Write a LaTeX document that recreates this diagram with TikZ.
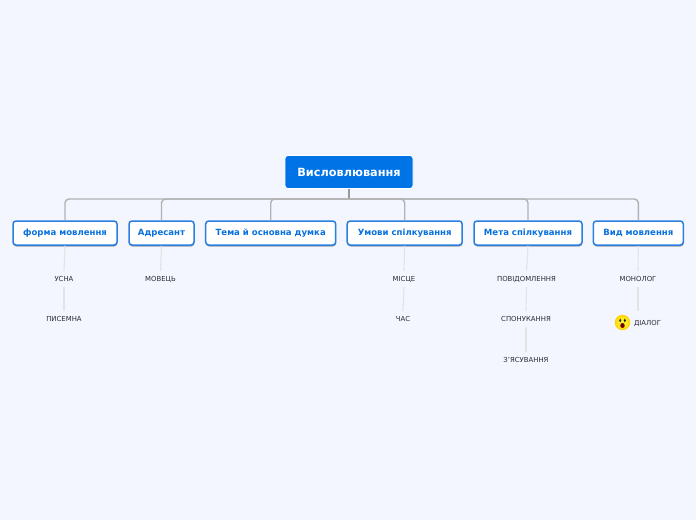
\documentclass[tikz,border=0pt]{standalone}
\usepackage{fontspec}
\setmainfont{DejaVu Sans}
\usetikzlibrary{positioning, shadows}
\definecolor{pagebg}{HTML}{F3F6FF}
\definecolor{rootblue}{HTML}{0073E6}
\definecolor{edgeblue}{HTML}{2A7FDE}
\definecolor{textblue}{HTML}{0870DC}
\definecolor{leafink}{HTML}{2A2D33}

\begin{document}
\begin{tikzpicture}[
  x=1pt, y=-1pt,
  every node/.style={align=center},
  % styles
  rootbox/.style={
    draw=white, fill=rootblue, rounded corners=3pt, line width=0.8pt,
    minimum width=128pt, minimum height=33pt, text=white,
    font=\fontsize{11.3}{13}\selectfont\bfseries
  },
  topicbox/.style={
    draw=edgeblue, fill=white, rounded corners=3pt, line width=1.5pt,
    minimum height=24pt, inner xsep=0pt, text=textblue,
    font=\fontsize{8.55}{10}\selectfont\bfseries,
    drop shadow={shadow xshift=0.3pt, shadow yshift=-1.5pt, opacity=0.5, fill=black!70}
  },
  leaf/.style={
    minimum height=16pt, inner sep=0pt, text=leafink,
    font=\fontsize{6.9}{8}\selectfont
  },
  branch/.style={draw=black!30, line width=1.4pt, rounded corners=4pt},
  twig/.style={draw=black!11, line width=1.1pt}
]

  % page
  \fill[pagebg] (0,0) rectangle (696,520);

  % main nodes
  \node[rootbox] (Root) at (349,172) {Висловлювання};
  \coordinate (Bus) at (349,199);

  \node[topicbox, minimum width=104pt] (Form) at (65,233) {форма мовлення};
  \node[topicbox, minimum width=65pt] (Addr) at (161.5,233) {Адресант};
  \node[topicbox, minimum width=130pt] (Theme) at (270.7,233) {Тема й основна думка};
  \node[topicbox, minimum width=115pt] (Cond) at (404.7,233) {Умови спілкування};
  \node[topicbox, minimum width=108pt] (Goal) at (528,233) {Мета спілкування};
  \node[topicbox, minimum width=90pt] (Kind) at (638.3,233) {Вид мовлення};

  % leaves
  \node[leaf] (Usna) at (64,279) {УСНА};
  \node[leaf] (Pysemna) at (64,319) {ПИСЕМНА};
  \node[leaf] (Movets) at (160.5,279) {МОВЕЦЬ};
  \node[leaf] (Mistse) at (404,279) {МІСЦЕ};
  \node[leaf] (Chas) at (403,319) {ЧАС};
  \node[leaf] (Povid) at (526.5,279) {ПОВІДОМЛЕННЯ};
  \node[leaf] (Sponuk) at (526,319) {СПОНУКАННЯ};
  \node[leaf] (Zyas) at (526,360) {З'ЯСУВАННЯ};
  \node[leaf] (Monolog) at (638,279) {МОНОЛОГ};
  \node[leaf] (Dialog) at (647.5,323) {ДІАЛОГ};
  \coordinate (DialogTop) at (638,311);

  % root to topics
  \draw[branch, rounded corners=0pt, draw=black!40, line width=1.8pt] (Root.south) -- (Bus);
  \draw[branch] (Bus) -| (Form.north);
  \draw[branch] (Bus) -| (Addr.north);
  \draw[branch] (Bus) -| (Theme.north);
  \draw[branch] (Bus) -| (Cond.north);
  \draw[branch] (Bus) -| (Goal.north);
  \draw[branch] (Bus) -| (Kind.north);

  % topics to leaves
  \draw[twig] (Form.south) -- (Usna.north);
  \draw[twig] (Usna.south) -- (Pysemna.north);
  \draw[twig] (Addr.south) -- (Movets.north);
  \draw[twig] (Cond.south) -- (Mistse.north);
  \draw[twig] (Mistse.south) -- (Chas.north);
  \draw[twig] (Goal.south) -- (Povid.north);
  \draw[twig] (Povid.south) -- (Sponuk.north);
  \draw[twig] (Sponuk.south) -- (Zyas.north);
  \draw[twig] (Kind.south) -- (Monolog.north);
  \draw[twig] (Monolog.south) -- (DialogTop);

  % face icon
  \node[circle, inner sep=0pt, minimum size=15pt, draw=yellow!60!orange, line width=0.3pt,
        inner color=yellow!75!white, outer color=yellow!70!orange] (Face) at (622.5,322.5) {};
  \fill[black!85] ([shift={(-2.3,-2)}]Face.center) ellipse (1.1 and 1.9);
  \fill[black!85] ([shift={(2.3,-2)}]Face.center) ellipse (1.1 and 1.9);
  \fill[red!45!black] ([shift={(0,3)}]Face.center) ellipse (2.2 and 2.6);
\end{tikzpicture}
\end{document}
